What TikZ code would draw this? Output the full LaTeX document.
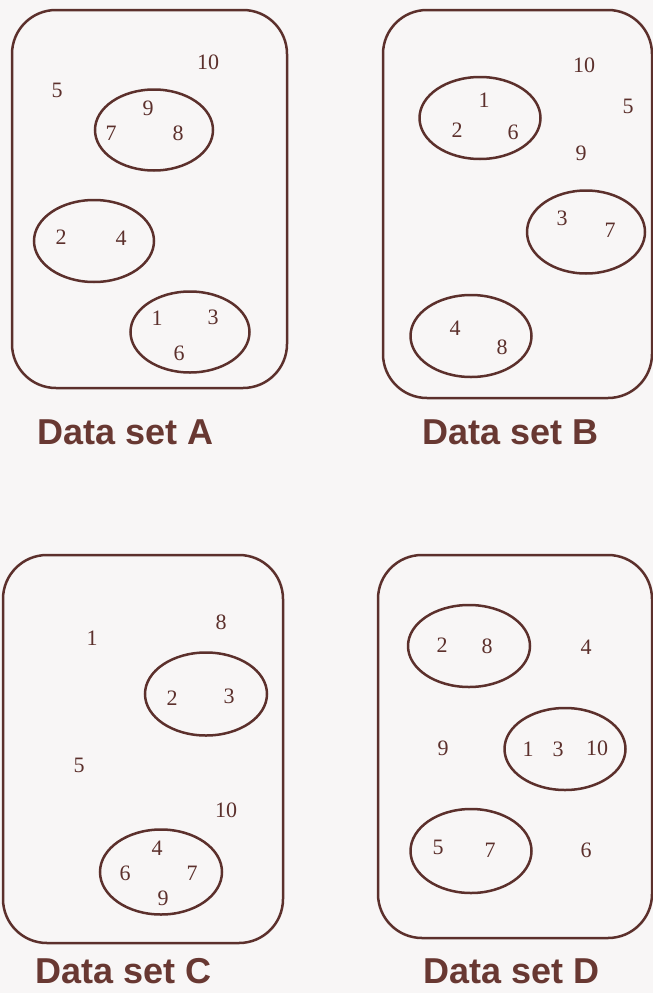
\documentclass[tikz,border=0pt]{standalone}
\usepackage{fontspec}
\setmainfont{Liberation Serif}
\newfontfamily\labfont{Liberation Sans}
\usetikzlibrary{shapes.geometric}
\definecolor{ink}{RGB}{92,48,44}
\definecolor{labink}{RGB}{104,56,50}
\definecolor{paper}{RGB}{248,246,246}
\begin{document}
\begin{tikzpicture}[x=1pt,y=-1pt,
  setbox/.style={draw=ink,line width=2.5pt,rectangle,rounded corners=44pt,inner sep=0pt},
  grp/.style={draw=ink,line width=2.5pt,ellipse,inner sep=0pt},
  num/.style={text=ink,inner sep=0pt,font=\fontsize{22}{22}\selectfont},
  lab/.style={text=labink,inner sep=0pt,font=\labfont\bfseries\fontsize{36}{36}\selectfont}]
\fill[paper] (0,0) rectangle (653,993);
\useasboundingbox (0,0) rectangle (653,993);
% ---------- A ----------
\node[setbox,minimum width=275pt,minimum height=378pt] (boxA) at (149.5,199) {};
\node[grp,minimum width=118pt,minimum height=81pt] (A1) at (154,130) {};
\node[grp,minimum width=120pt,minimum height=82pt] (A2) at (94,241) {};
\node[grp,minimum width=119pt,minimum height=81pt] (A3) at (190,332) {};
\node[num] (a10) at (208,62) {10};
\node[num] (a5) at (57,90) {5};
\node[num] (a9) at (148,108) {9};
\node[num] (a7) at (111,133) {7};
\node[num] (a8) at (178,133) {8};
\node[num] (a2) at (61,237) {2};
\node[num] (a4) at (121,238) {4};
\node[num] (a1) at (157,318) {1};
\node[num] (a3) at (213,317) {3};
\node[num] (a6) at (179,353) {6};
\node[lab] (labA) at (126,432) {Data set A};
% ---------- B ----------
\node[setbox,minimum width=269pt,minimum height=388pt] (boxB) at (517.5,204) {};
\node[grp,minimum width=121pt,minimum height=82pt] (B1) at (480,118) {};
\node[grp,minimum width=118pt,minimum height=83pt] (B2) at (586,232) {};
\node[grp,minimum width=121pt,minimum height=82pt] (B3) at (471,336) {};
\node[num] (b10) at (584,65) {10};
\node[num] (b5) at (628,106) {5};
\node[num] (b1) at (484,100) {1};
\node[num] (b2) at (457,130) {2};
\node[num] (b6) at (513,132) {6};
\node[num] (b9) at (581,153) {9};
\node[num] (b3) at (562,218) {3};
\node[num] (b7) at (610,230) {7};
\node[num] (b4) at (455,328) {4};
\node[num] (b8) at (502,347) {8};
\node[lab] (labB) at (511,432) {Data set B};
% ---------- C ----------
\node[setbox,minimum width=280pt,minimum height=388pt] (boxC) at (143,749) {};
\node[grp,minimum width=122pt,minimum height=83pt] (C1) at (206,694) {};
\node[grp,minimum width=122pt,minimum height=85pt] (C2) at (161,872) {};
\node[num] (c8) at (221,622) {8};
\node[num] (c1) at (92,638) {1};
\node[num] (c2) at (172,698) {2};
\node[num] (c3) at (229,696) {3};
\node[num] (c5) at (79,765) {5};
\node[num] (c10) at (226,810) {10};
\node[num] (c4) at (157,848) {4};
\node[num] (c6) at (125,873) {6};
\node[num] (c7) at (192,873) {7};
\node[num] (c9) at (163,898) {9};
\node[lab] (labC) at (124,971) {Data set C};
% ---------- D ----------
\node[setbox,minimum width=274pt,minimum height=383pt] (boxD) at (515,746.5) {};
\node[grp,minimum width=122pt,minimum height=82pt] (D1) at (469,646) {};
\node[grp,minimum width=121pt,minimum height=82pt] (D2) at (565,749) {};
\node[grp,minimum width=121pt,minimum height=84pt] (D3) at (471,851) {};
\node[num] (d2) at (442,645) {2};
\node[num] (d8) at (487,646) {8};
\node[num] (d4) at (586,647) {4};
\node[num] (d9) at (443,748) {9};
\node[num] (d1) at (528,749) {1};
\node[num] (d3) at (558,749) {3};
\node[num] (d10) at (597,748) {10};
\node[num] (d5) at (438,847) {5};
\node[num] (d7) at (490,850) {7};
\node[num] (d6) at (586,850) {6};
\node[lab] (labD) at (512,971) {Data set D};
\end{tikzpicture}
\end{document}
